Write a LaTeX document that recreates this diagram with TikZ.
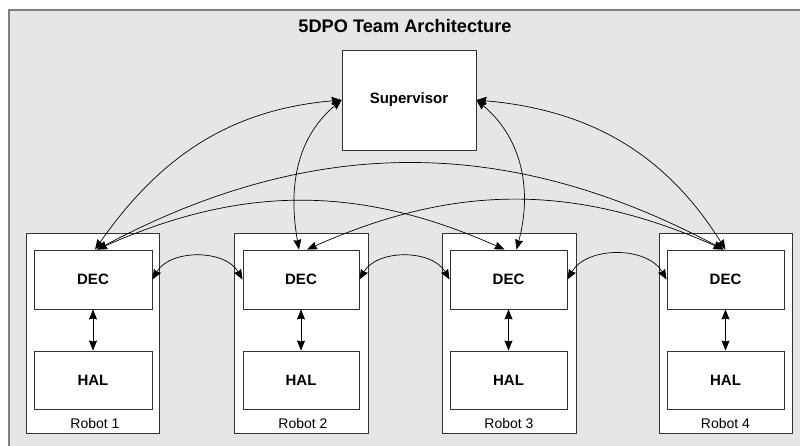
\documentclass[tikz,border=0pt]{standalone}
\usepackage{fontspec}
\setmainfont{Liberation Sans}
\usetikzlibrary{arrows.meta}
\definecolor{framefill}{HTML}{E6E6E6}
\definecolor{frameline}{HTML}{808080}
\definecolor{boxline}{HTML}{333333}
\begin{document}
\begin{tikzpicture}[x=1pt,y=1pt,
  box/.style={draw=boxline, fill=white, line width=0.9pt, inner sep=0pt},
  lbl/.style={font=\fontsize{15}{18}\selectfont\bfseries},
  rlbl/.style={font=\fontsize{14}{16}\selectfont, inner sep=0pt},
  link/.style={{Stealth[length=10pt,width=8pt,inset=1pt]}-{Stealth[length=10pt,width=8pt,inset=1pt]}, line width=0.7pt, black},
]
\useasboundingbox (0,0) rectangle (800,446);
\fill[white] (0,0) rectangle (800,446);
\begin{scope}
\clip (0,0) rectangle (800,446);
\fill[framefill] (9,-10) rectangle (810,436);
\draw[frameline, line width=2pt] (9,-10) -- (9,436) -- (810,436);
\end{scope}

\node[font=\fontsize{18.2}{21}\selectfont\bfseries] (title) at (405,420) {5DPO Team Architecture};

\node[box, minimum width=134pt, minimum height=100pt, lbl] (sup) at (409,346) {Supervisor};

% robots
\node[box, minimum width=133pt, minimum height=200pt] (r1) at (92.5,113) {};
\node[box, minimum width=134pt, minimum height=200pt] (r2) at (301,113) {};
\node[box, minimum width=134pt, minimum height=200pt] (r3) at (509,113) {};
\node[box, minimum width=133pt, minimum height=200pt] (r4) at (725.5,113) {};

\node[rlbl] (l1) at (95,23) {Robot 1};
\node[rlbl] (l2) at (303,23) {Robot 2};
\node[rlbl] (l3) at (509,23) {Robot 3};
\node[rlbl] (l4) at (725.5,23) {Robot 4};

\node[box, minimum width=118pt, minimum height=59pt, lbl] (d1) at (93,166.5) {DEC};
\node[box, minimum width=116pt, minimum height=59pt, lbl] (d2) at (301,166.5) {DEC};
\node[box, minimum width=117pt, minimum height=59pt, lbl] (d3) at (508.5,166.5) {DEC};
\node[box, minimum width=117pt, minimum height=59pt, lbl] (d4) at (725.5,166.5) {DEC};

\node[box, minimum width=118pt, minimum height=58pt, lbl] (h1) at (93,66) {HAL};
\node[box, minimum width=116pt, minimum height=58pt, lbl] (h2) at (301,66) {HAL};
\node[box, minimum width=117pt, minimum height=58pt, lbl] (h3) at (508.5,66) {HAL};
\node[box, minimum width=117pt, minimum height=58pt, lbl] (h4) at (725.5,66) {HAL};

% DEC <-> HAL
\draw[link] (d1.south) -- (h1.north);
\draw[link] (d2.south) -- (h2.north);
\draw[link] (d3.south) -- (h3.north);
\draw[link] (d4.south) -- (h4.north);

% neighbouring DECs
\draw[link] (d1.east) to[out=60,in=120] (d2.west);
\draw[link] (d2.east) to[out=60,in=120] (d3.west);
\draw[link] (d3.east) to[out=60,in=120] (d4.west);

% supervisor links
\draw[link] (sup.west) to[out=185,in=55] ([xshift=2pt]d1.north);
\draw[link] (sup.west) to[out=220,in=100] ([xshift=-2pt]d2.north);
\draw[link] (sup.east) to[out=320,in=75] ([xshift=8pt]d3.north);
\draw[link] (sup.east) to[out=-5,in=122] (d4.north);

% long DEC links
\draw[link] ([xshift=4pt]d1.north) to[out=28,in=152] ([xshift=-2pt]d4.north);
\draw[link] ([xshift=4pt]d1.north) to[out=24,in=156] ([xshift=-4pt]d3.north);
\draw[link] ([xshift=6pt]d2.north) to[out=24,in=156] ([xshift=-2pt]d4.north);
\end{tikzpicture}
\end{document}
